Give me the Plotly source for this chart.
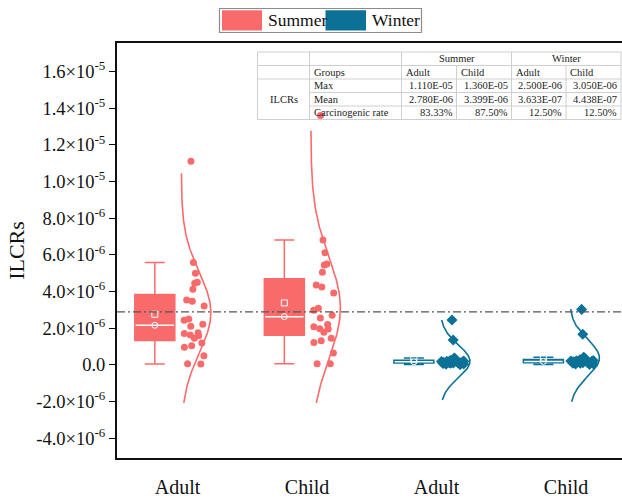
import numpy as np
import plotly.graph_objects as go

# ---------------- data ----------------
categories = ["Adult", "Child", "Adult", "Child"]
seasons = ["Summer", "Summer", "Winter", "Winter"]

summer_adult = [11.1e-6, 5.58e-6, 5.0e-6, 4.45e-6, 4.51e-6, 4.13e-6, 3.54e-6, 3.47e-6,
                3.22e-6, 2.51e-6, 2.44e-6, 2.22e-6, 2.11e-6, 1.76e-6, 1.71e-6, 1.64e-6,
                1.60e-6, 1.46e-6, 1.20e-6, 1.05e-6, 0.96e-6, 0.51e-6, 0.05e-6, 0.07e-6]
summer_child = [13.6e-6, 6.81e-6, 6.12e-6, 5.45e-6, 5.50e-6, 5.05e-6, 4.36e-6, 4.25e-6,
                3.92e-6, 3.09e-6, 2.98e-6, 2.71e-6, 2.56e-6, 2.20e-6, 1.98e-6, 1.96e-6,
                1.78e-6, 2.09e-6, 1.46e-6, 1.32e-6, 1.22e-6, 0.65e-6, 0.07e-6, 0.07e-6]
winter_adult = [2.45e-6, 1.36e-6, 0.02e-6, 0.04e-6, 0.06e-6, 0.08e-6, 0.09e-6, 0.10e-6,
                0.11e-6, 0.12e-6, 0.13e-6, 0.15e-6, 0.16e-6, 0.17e-6, 0.18e-6, 0.19e-6,
                0.20e-6, 0.21e-6, 0.22e-6, 0.24e-6, 0.27e-6, 0.30e-6, 0.34e-6, 0.38e-6]
winter_child = [3.03e-6, 1.67e-6, 0.03e-6, 0.05e-6, 0.07e-6, 0.09e-6, 0.10e-6, 0.12e-6,
                0.13e-6, 0.14e-6, 0.16e-6, 0.17e-6, 0.18e-6, 0.19e-6, 0.20e-6, 0.22e-6,
                0.23e-6, 0.24e-6, 0.26e-6, 0.28e-6, 0.31e-6, 0.34e-6, 0.38e-6, 0.42e-6]
group_values = [summer_adult, summer_child, winter_adult, winter_child]

# normal-curve overlays
fit_mean = [2.85e-6, 3.1e-6, 0.2e-6, 0.38e-6]
fit_sd = [2.2e-6, 2.8e-6, 0.9e-6, 1.0e-6]
curve_lo = [-2.07e-6, -2.07e-6, -1.9e-6, -2.0e-6]
curve_hi = [10.45e-6, 12.77e-6, 2.45e-6, 3.05e-6]

threshold = 2.9e-6

y_tickvals = [-4e-6, -2e-6, 0, 2e-6, 4e-6, 6e-6, 8e-6, 1.0e-5, 1.2e-5, 1.4e-5, 1.6e-5]
y_ticktext = ["-4.0×10<sup>-6</sup>", "-2.0×10<sup>-6</sup>", "0.0",
              "2.0×10<sup>-6</sup>", "4.0×10<sup>-6</sup>", "6.0×10<sup>-6</sup>",
              "8.0×10<sup>-6</sup>", "1.0×10<sup>-5</sup>", "1.2×10<sup>-5</sup>",
              "1.4×10<sup>-5</sup>", "1.6×10<sup>-5</sup>"]

# table contents
table_seasons = ["Summer", "Winter"]
table_groups = ["Adult", "Child", "Adult", "Child"]
table_stats = ["Max", "Mean", "Carcinogenic rate"]
table_max = ["1.110E-05", "1.360E-05", "2.500E-06", "3.050E-06"]
table_mean = ["2.780E-06", "3.399E-06", "3.633E-07", "4.438E-07"]
table_rate = ["83.33%", "87.50%", "12.50%", "12.50%"]

# ---------------- style ----------------
FONT = "Liberation Serif, Times New Roman, serif"
colors = {"Summer": "#F96B6B", "Winter": "#0B7197"}
symbols = {"Summer": "circle", "Winter": "diamond"}

BOX_OFF = -0.175
BOX_W = 0.309
CURVE_OFF = 0.03
CURVE_AMP = 0.228

L, R, T, B = 117, 622, 43, 458


def px(x):
    return (x - L) / (R - L)


def py(y):
    return (B - y) / (B - T)


fig = go.Figure()

# normal curves
for i, vals in enumerate(group_values):
    c = colors[seasons[i]]
    yy = np.linspace(curve_lo[i], curve_hi[i], 300)
    xx = i + CURVE_OFF + CURVE_AMP * np.exp(-0.5 * ((yy - fit_mean[i]) / fit_sd[i]) ** 2)
    fig.add_trace(go.Scatter(x=xx, y=yy, mode="lines", line=dict(color=c, width=1.6),
                             showlegend=False, hoverinfo="skip"))

# boxes with jittered points
for i, vals in enumerate(group_values):
    c = colors[seasons[i]]
    fig.add_trace(go.Box(
        x=[i + BOX_OFF] * len(vals), y=vals, width=BOX_W,
        boxpoints="all", pointpos=2.0, jitter=0.72,
        fillcolor=c, line=dict(color=c, width=1.5), whiskerwidth=0.5,
        marker=dict(color=c, size=7 if seasons[i] == "Summer" else 8.5,
                    symbol=symbols[seasons[i]]),
        showlegend=False, name=f"{seasons[i]} {categories[i]}"))

# white median line, median circle and mean square
for i, vals in enumerate(group_values):
    med = float(np.median(vals))
    mean = float(np.mean(vals))
    x0 = i + BOX_OFF
    hw = BOX_W / 2 - 0.006
    fig.add_trace(go.Scatter(x=[x0 - hw, x0 + hw], y=[med, med], mode="lines",
                             line=dict(color="white", width=1.5),
                             showlegend=False, hoverinfo="skip"))
    fig.add_trace(go.Scatter(x=[x0], y=[med], mode="markers",
                             marker=dict(symbol="circle-open", size=6,
                                         color="white", line=dict(width=1)),
                             showlegend=False, hoverinfo="skip"))
    fig.add_trace(go.Scatter(x=[x0], y=[mean], mode="markers",
                             marker=dict(symbol="square-open", size=6,
                                         color="white", line=dict(width=1)),
                             showlegend=False, hoverinfo="skip"))

shapes = []
annotations = []

# threshold line
shapes.append(dict(type="line", xref="paper", yref="y", x0=0, x1=1,
                   y0=threshold, y1=threshold,
                   line=dict(color="#555555", width=1.3, dash="8px,3px,2px,3px")))

# legend (drawn)
shapes.append(dict(type="rect", xref="paper", yref="paper",
                   x0=px(219.5), x1=px(421.5), y0=py(32.5), y1=py(8.5),
                   line=dict(color="#8c8c8c", width=1.2), fillcolor="white"))
shapes.append(dict(type="rect", xref="paper", yref="paper",
                   x0=px(222), x1=px(262), y0=py(30.5), y1=py(10.3),
                   line=dict(width=0), fillcolor=colors["Summer"]))
shapes.append(dict(type="rect", xref="paper", yref="paper",
                   x0=px(325.5), x1=px(366), y0=py(30.5), y1=py(10.3),
                   line=dict(width=0), fillcolor=colors["Winter"]))
annotations.append(dict(text="Summer", xref="paper", yref="paper", x=px(266),
                        y=py(20.5), xanchor="left", yanchor="middle", showarrow=False,
                        font=dict(family=FONT, size=17.5, color="#111")))
annotations.append(dict(text="Winter", xref="paper", yref="paper", x=px(370),
                        y=py(20.5), xanchor="left", yanchor="middle", showarrow=False,
                        font=dict(family=FONT, size=17.5, color="#111")))

# table (drawn)
col_x = [257.5, 309.5, 401.5, 456.5, 511.5, 566, 621]
row_y = [52, 65.5, 79, 92.5, 106, 119.5]
tl = dict(color="#cfcfcf", width=1)


def hline(x0, x1, y):
    shapes.append(dict(type="line", xref="paper", yref="paper", x0=px(x0), x1=px(x1),
                       y0=py(y), y1=py(y), line=tl, layer="above"))


def vline(x, y0, y1):
    shapes.append(dict(type="line", xref="paper", yref="paper", x0=px(x), x1=px(x),
                       y0=py(y0), y1=py(y1), line=tl, layer="above"))


hline(col_x[0], col_x[-1], row_y[0])
hline(col_x[0], col_x[-1], row_y[1])
hline(col_x[0], col_x[-1], row_y[2])
hline(col_x[1], col_x[-1], row_y[3])
hline(col_x[1], col_x[-1], row_y[4])
hline(col_x[0], col_x[-1], row_y[5])
for k in [0, 1, 2, 4, 6]:
    vline(col_x[k], row_y[0], row_y[5])
for k in [3, 5]:
    vline(col_x[k], row_y[1], row_y[5])

TF = dict(family=FONT, size=10.5, color="#222")


def cell_text(text, x, y, anchor):
    annotations.append(dict(text=text, xref="paper", yref="paper", x=px(x), y=py(y),
                            xanchor=anchor, yanchor="middle", showarrow=False, font=TF))


def rc(r):
    return (row_y[r] + row_y[r + 1]) / 2


cell_text(table_seasons[0], (col_x[2] + col_x[4]) / 2, rc(0), "center")
cell_text(table_seasons[1], (col_x[4] + col_x[6]) / 2, rc(0), "center")
cell_text("Groups", col_x[1] + 2, rc(1), "left")
for j, g in enumerate(table_groups):
    cell_text(g, col_x[2 + j] + 2, rc(1), "left")
for r, (name, vals) in enumerate(zip(table_stats, [table_max, table_mean, table_rate])):
    cell_text(name, col_x[1] + 2, rc(2 + r), "left")
    for j, v in enumerate(vals):
        cell_text(v, col_x[3 + j] - 2, rc(2 + r), "right")
cell_text("ILCRs", (col_x[0] + col_x[1]) / 2, rc(3), "center")

fig.update_layout(
    width=622, height=500,
    margin=dict(l=L, r=0, t=T, b=500 - B, autoexpand=False),
    paper_bgcolor="white", plot_bgcolor="white",
    font=dict(family=FONT, color="#111"),
    shapes=shapes, annotations=annotations,
    showlegend=False,
    xaxis=dict(range=[-0.467, 3.432], tickmode="array", tickvals=[0, 1, 2, 3],
               ticktext=categories, ticks="", showgrid=False, zeroline=False,
               showline=True, linecolor="#111", linewidth=2, mirror=True,
               tickfont=dict(family=FONT, size=20, color="#111"),
               ticklabelstandoff=10),
    yaxis=dict(range=[-5.07e-6, 17.55e-6], tickmode="array", tickvals=y_tickvals,
               ticktext=y_ticktext, ticks="outside", ticklen=6, tickwidth=1.3,
               tickcolor="#111", showgrid=False, zeroline=False, showline=True,
               linecolor="#111", linewidth=2,
               tickfont=dict(family=FONT, size=18.5, color="#111"),
               title=dict(text="ILCRs", font=dict(family=FONT, size=22, color="#111"),
                          standoff=6)),
)

fig.write_html("out.html")
